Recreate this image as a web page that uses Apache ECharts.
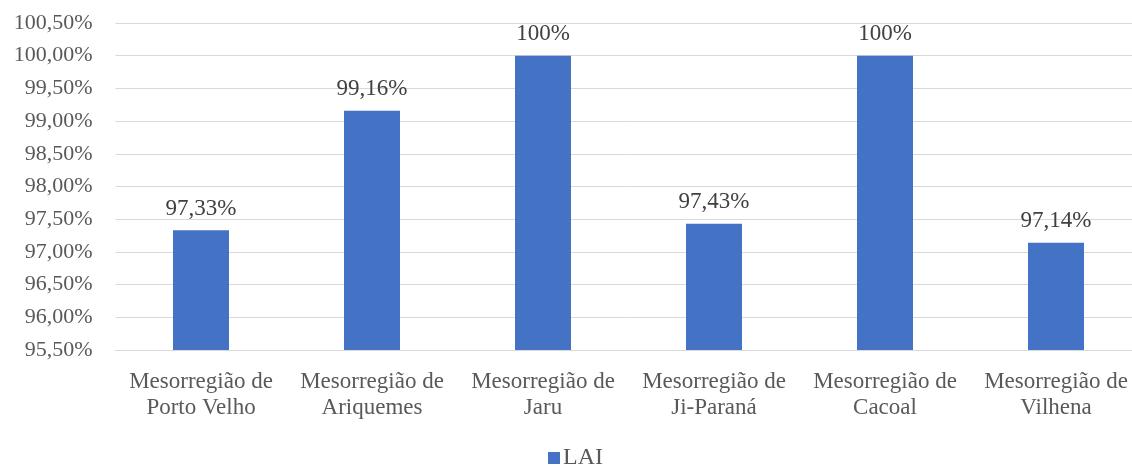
<!DOCTYPE html>
<html>
<head>
<meta charset="utf-8">
<script src="https://cdn.jsdelivr.net/npm/echarts@6/dist/echarts.min.js"></script>
<style>
  html, body { margin: 0; padding: 0; background: #fff; }
  #main { width: 1132px; height: 475px; }
</style>
</head>
<body>
<div id="main"></div>
<script>
var categories = ['Mesorregião de\nPorto Velho', 'Mesorregião de\nAriquemes', 'Mesorregião de\nJaru',
  'Mesorregião de\nJi-Paraná', 'Mesorregião de\nCacoal', 'Mesorregião de\nVilhena']
var laiValues = [97.33, 99.16, 100, 97.43, 100, 97.14]
var seriesName = 'LAI'

function fmtPct(v, digits) {
  return v.toFixed(digits).replace('.', ',') + '%'
}

var chart = echarts.init(document.getElementById('main'))
chart.setOption({
  animation: false,
  textStyle: { fontFamily: '"Liberation Serif", "Times New Roman", serif' },
  color: ['#4472C4'],
  legend: {
    data: [seriesName],
    bottom: 0,
    left: 543,
    icon: 'rect',
    itemWidth: 12,
    itemHeight: 12,
    itemGap: 4,
    textStyle: { fontSize: 24, color: '#595959', fontFamily: '"Liberation Serif", serif', padding: [0, 0, 0, -2] }
  },
  grid: {
    left: 115.5,
    width: 1026,
    top: 23,
    bottom: 125,
    outerBoundsMode: 'none',
    containLabel: false
  },
  xAxis: {
    type: 'category',
    data: categories,
    axisTick: { show: false },
    axisLine: { lineStyle: { color: '#d9d9d9', width: 1 } },
    axisLabel: {
      interval: 0,
      fontSize: 23,
      lineHeight: 26,
      color: '#595959',
      margin: 19,
      fontFamily: '"Liberation Serif", serif'
    }
  },
  yAxis: {
    type: 'value',
    min: 95.5,
    max: 100.5,
    interval: 0.5,
    axisLine: { show: false },
    axisTick: { show: false },
    splitLine: { lineStyle: { color: '#d9d9d9', width: 1 } },
    axisLabel: {
      fontSize: 22,
      color: '#595959',
      margin: 23,
      fontFamily: '"Liberation Serif", serif',
      formatter: function (v) { return fmtPct(v, 2) }
    }
  },
  series: [{
    name: seriesName,
    type: 'bar',
    data: laiValues,
    barWidth: 56,
    label: {
      show: true,
      position: 'top',
      distance: 10,
      fontSize: 23,
      color: '#404040',
      fontFamily: '"Liberation Serif", serif',
      formatter: function (p) {
        return p.value === 100 ? '100%' : fmtPct(p.value, 2)
      }
    }
  }]
})
</script>
</body>
</html>
